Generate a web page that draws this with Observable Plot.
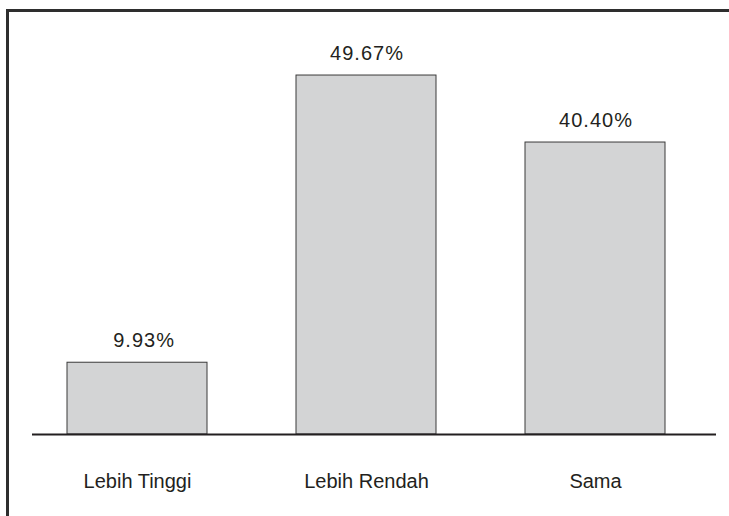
<!DOCTYPE html>
<html>
<head>
<meta charset="utf-8">
<script src="https://cdn.jsdelivr.net/npm/d3@7"></script>
<script src="https://cdn.jsdelivr.net/npm/@observablehq/plot@0.6"></script>
<style>
  html, body { margin: 0; padding: 0; background: #fff; }
  #wrap { position: relative; width: 729px; height: 516px; overflow: hidden; }
  #border { position: absolute; left: 6px; top: 9px; right: -5px; bottom: -5px;
            border-top: 3px solid #2e2e2e; border-left: 3px solid #2e2e2e; pointer-events: none; }
  .vlabel text { letter-spacing: 1px; }
</style>
</head>
<body>
<div id="wrap"><div id="border"></div></div>
<script>
const categories = ["Lebih Tinggi", "Lebih Rendah", "Sama"];
const values = [9.93, 49.67, 40.40];
const valueLabels = ["\u20079.93%", "49.67%", "40.40%"];

const data = categories.map((c, i) => ({category: c, value: values[i], label: valueLabels[i]}));

const chart = Plot.plot({
  width: 729,
  height: 516,
  marginLeft: 32,
  marginRight: 13,
  marginTop: 30,
  marginBottom: 82,
  style: {fontFamily: "'Liberation Sans', Arial, sans-serif", fontSize: "20px", color: "#231f20", background: "transparent"},
  x: {domain: categories, padding: 0.3875, paddingOuter: 0.183, align: 0.414, label: null},
  y: {domain: [0, 55.9], axis: null},
  marks: [
    Plot.axisX({tickSize: 0, tickPadding: 39, fontSize: 20, label: null}),
    Plot.barY(data, {x: "category", y: "value", fill: "#d3d4d5", stroke: "#3a3a3a", strokeWidth: 1}),
    Plot.text(data, {x: "category", y: "value", text: "label", dy: -22, dx: 0.5, fontSize: 20, fill: "#231f20", className: "vlabel"}),
    Plot.ruleY([0], {stroke: "#231f20", strokeWidth: 2})
  ]
});
document.getElementById("wrap").prepend(chart);
</script>
</body>
</html>
